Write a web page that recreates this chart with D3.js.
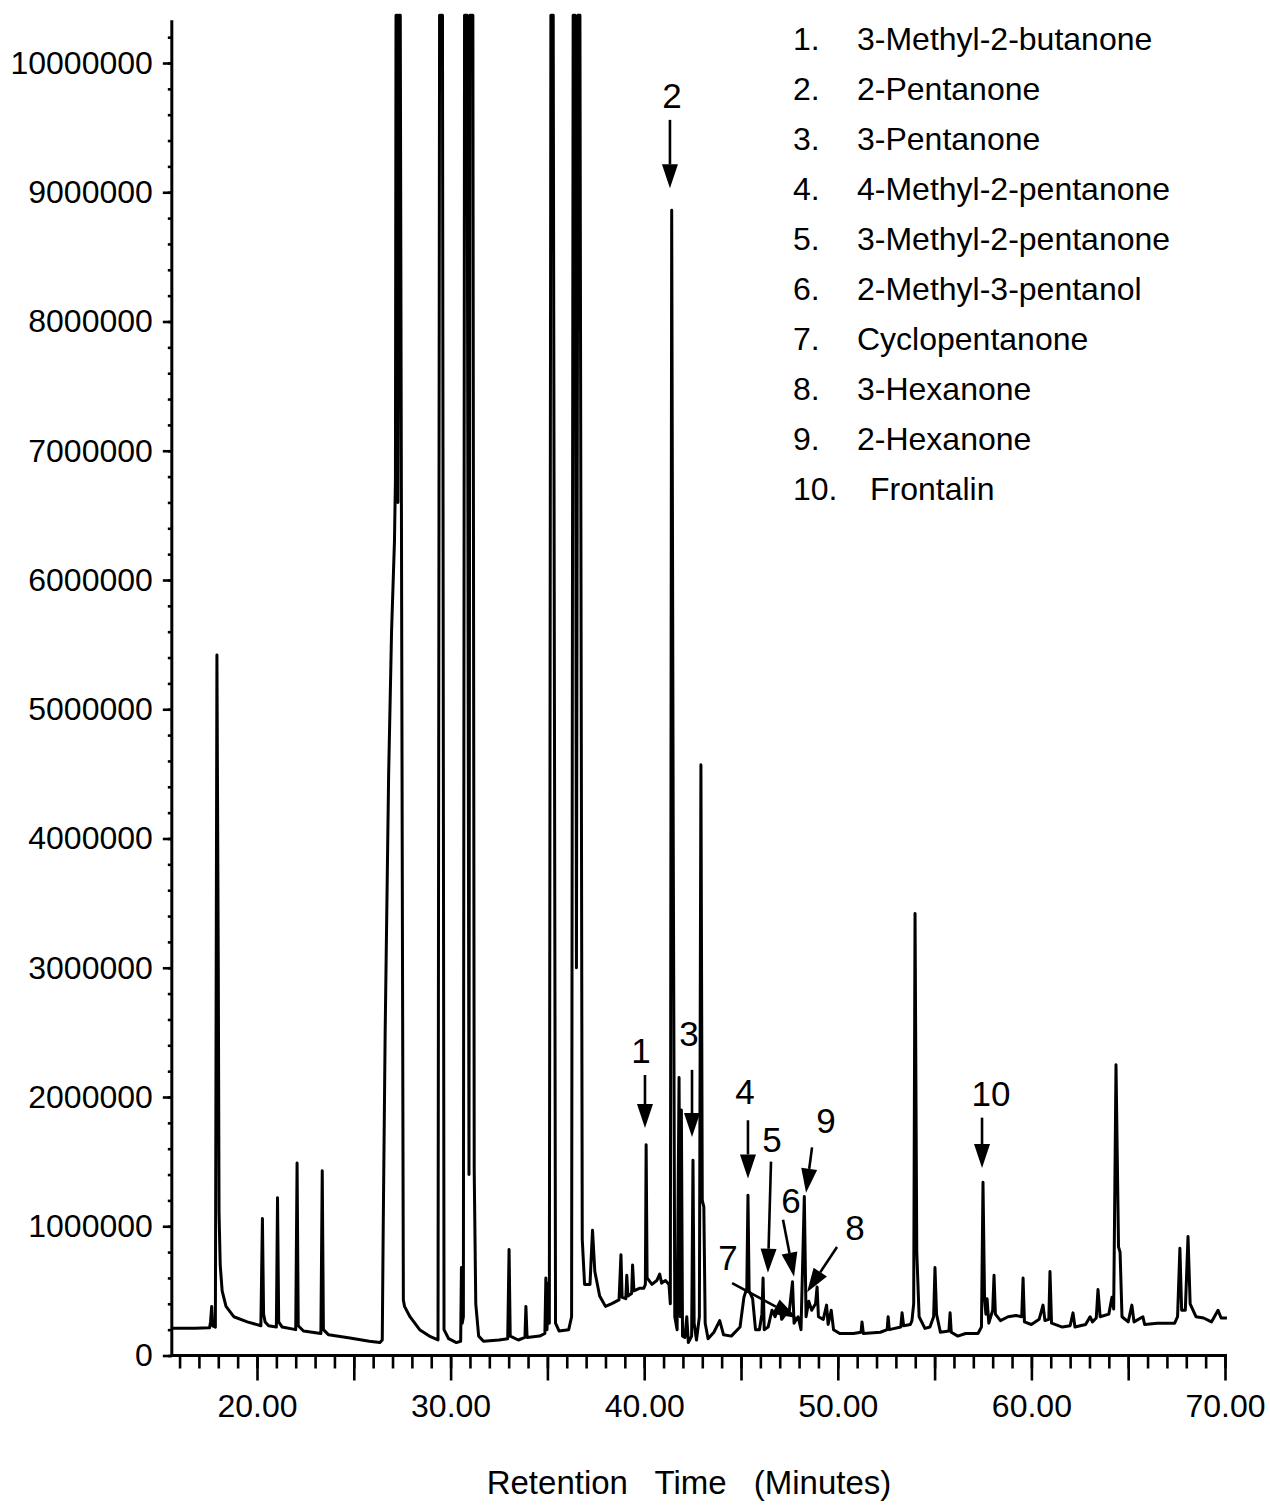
<!DOCTYPE html>
<html>
<head>
<meta charset="utf-8">
<script src="https://cdn.jsdelivr.net/npm/d3@7"></script>
<style>
  body { margin: 0; background: #fff; }
  svg { display: block; font-family: "Liberation Sans", Arial, sans-serif; }
</style>
</head>
<body>
<div id="container"></div>
<script>
// chromatogram: [retention time (min), abundance]
const traceEarly = [
  [15.6, 2.1e5], [16.8, 2.1e5], [17.55, 2.15e5], [17.6, 2.6e5], [17.66, 3.8e5], [17.71, 2.3e5],
  [17.85, 2.2e5], [17.93, 5.42e6], [18.0, 3.0e6], [18.04, 1.1e6], [18.1, 7.0e5], [18.2, 5.0e5],
  [18.4, 3.8e5], [18.8, 3.0e5], [19.5, 2.6e5], [20.2, 2.3e5], [20.28, 1.06e6], [20.34, 3.2e5],
  [20.42, 2.6e5], [20.6, 2.3e5], [21.0, 2.2e5], [21.06, 1.22e6], [21.12, 2.6e5], [21.3, 2.2e5],
  [22.0, 2.0e5], [22.07, 1.49e6], [22.13, 2.3e5], [22.4, 1.9e5], [23.3, 1.7e5], [23.37, 1.43e6],
  [23.43, 2.0e5], [23.7, 1.6e5], [24.8, 1.35e5], [25.8, 1.1e5], [26.35, 1.0e5]
];
const traceMiddle = [
  [26.47, 1.2e5], [26.52, 1.0e6], [26.62, 2.5e6], [26.8, 4.5e6], [26.95, 5.6e6], [27.1, 6.3e6],
  [27.15, 6.77e6], [27.18, 1.037e7], [27.24, 1.037e7], [27.28, 6.6e6], [27.34, 1.037e7],
  [27.4, 1.037e7], [27.5, 4.0e6], [27.56, 4.3e5], [27.62, 3.8e5], [27.9, 3.0e5], [28.4, 2.0e5],
  [28.9, 1.5e5], [29.35, 1.2e5], [29.43, 1.037e7], [29.58, 1.037e7], [29.66, 2.0e5], [29.9, 1.3e5],
  [30.3, 1.0e5], [30.52, 1.1e5], [30.56, 6.8e5], [30.6, 2.5e5], [30.66, 3.0e5], [30.72, 1.037e7],
  [30.85, 1.037e7], [30.95, 1.4e6], [31.0, 1.037e7], [31.15, 1.037e7], [31.22, 1.43e6],
  [31.3, 4.0e5], [31.45, 1.5e5], [31.7, 1.1e5], [32.5, 1.2e5], [32.95, 1.3e5], [33.02, 8.2e5],
  [33.08, 1.5e5], [33.5, 1.2e5], [33.84, 1.4e5], [33.89, 3.8e5], [33.95, 1.4e5], [34.6, 1.5e5],
  [34.87, 1.7e5], [34.92, 6.0e5], [34.98, 2.0e5], [35.05, 5.6e5], [35.1, 2.5e5], [35.18, 1.037e7],
  [35.3, 1.037e7], [35.42, 2.5e5], [35.6, 1.9e5], [36.1, 2.0e5], [36.25, 3.0e5], [36.33, 1.037e7],
  [36.43, 1.037e7], [36.5, 3.0e6], [36.58, 1.037e7], [36.68, 1.037e7], [36.8, 9.0e5],
  [36.92, 5.5e5], [37.2, 5.5e5], [37.33, 9.7e5], [37.45, 6.5e5], [37.7, 4.6e5], [38.0, 3.8e5],
  [38.3, 4.0e5], [38.7, 4.3e5], [38.8, 7.8e5], [38.86, 4.5e5], [39.05, 4.4e5], [39.1, 6.2e5],
  [39.16, 4.6e5], [39.35, 4.8e5], [39.4, 7.0e5], [39.47, 5.0e5], [39.75, 5.2e5], [39.98, 5.2e5],
  [40.06, 5.5e5], [40.1, 1.63e6], [40.15, 6.0e5], [40.4, 5.5e5], [40.65, 5.8e5], [40.8, 6.3e5],
  [40.9, 5.6e5], [41.1, 5.8e5], [41.28, 5.5e5]
];
const traceLate = [
  [41.35, 4.0e5], [41.42, 8.86e6], [41.5, 4.0e6], [41.58, 3.0e5], [41.7, 2.0e5], [41.8, 2.15e6],
  [41.86, 3.0e5], [41.92, 1.9e6], [41.98, 1.5e5], [42.1, 1.4e5], [42.2, 3.0e5], [42.28, 1.0e5],
  [42.45, 1.5e5], [42.52, 1.51e6], [42.58, 2.5e5], [42.7, 1.2e5], [42.85, 3.0e5], [42.93, 4.57e6],
  [43.0, 1.2e6], [43.08, 1.15e6], [43.15, 2.5e5], [43.3, 1.3e5], [43.6, 1.8e5], [43.9, 2.7e5],
  [44.1, 1.6e5], [44.5, 1.5e5], [44.95, 2.2e5], [45.15, 4.5e5], [45.3, 5.2e5], [45.36, 1.24e6],
  [45.42, 5.0e5], [45.6, 4.4e5], [45.75, 2.0e5], [45.95, 2.0e5], [46.08, 3.2e5], [46.14, 6.0e5],
  [46.2, 2.0e5], [46.4, 2.2e5], [46.6, 3.5e5], [46.76, 3.0e5], [47.0, 4.0e5], [47.1, 2.8e5],
  [47.3, 3.2e5], [47.5, 3.5e5], [47.66, 5.7e5], [47.74, 2.5e5], [47.95, 3.0e5], [48.1, 2.0e5],
  [48.27, 1.23e6], [48.36, 3.0e5], [48.5, 4.2e5], [48.65, 3.5e5], [48.85, 4.0e5], [48.93, 5.3e5],
  [49.0, 3.0e5], [49.25, 2.8e5], [49.42, 3.9e5], [49.5, 2.4e5], [49.66, 3.5e5], [49.78, 2.0e5],
  [50.1, 1.7e5], [50.8, 1.7e5], [51.2, 1.8e5], [51.25, 2.6e5], [51.32, 1.7e5], [52.2, 1.8e5],
  [52.55, 2.0e5], [52.6, 3.0e5], [52.66, 2.0e5], [53.25, 2.2e5], [53.32, 3.3e5], [53.4, 2.3e5],
  [53.75, 2.4e5], [53.83, 2.7e5], [53.92, 4.0e5], [53.99, 3.42e6], [54.08, 8.0e5], [54.2, 3.0e5],
  [54.5, 2.1e5], [54.76, 2.2e5], [54.95, 3.0e5], [55.02, 6.8e5], [55.1, 3.2e5], [55.3, 1.8e5],
  [55.74, 1.9e5], [55.8, 3.3e5], [55.86, 1.8e5], [56.2, 1.5e5], [56.6, 1.7e5], [57.24, 1.7e5],
  [57.42, 2.2e5], [57.5, 1.34e6], [57.58, 4.4e5], [57.65, 3.2e5], [57.71, 4.4e5], [57.8, 2.5e5],
  [58.0, 3.5e5], [58.07, 6.2e5], [58.14, 3.2e5], [58.4, 2.7e5], [58.8, 3.0e5], [59.2, 3.1e5],
  [59.5, 3.0e5], [59.57, 6.0e5], [59.64, 2.6e5], [60.0, 2.4e5], [60.4, 2.8e5], [60.6, 3.9e5],
  [60.7, 2.7e5], [60.9, 2.8e5], [60.96, 6.5e5], [61.04, 2.5e5], [61.6, 2.2e5], [62.0, 2.3e5],
  [62.15, 3.3e5], [62.25, 2.2e5], [62.8, 2.4e5], [63.03, 3.0e5], [63.15, 2.6e5], [63.35, 2.9e5],
  [63.44, 5.1e5], [63.55, 3.0e5], [64.0, 3.2e5], [64.16, 4.5e5], [64.25, 3.6e5], [64.37, 2.25e6],
  [64.5, 8.4e5], [64.58, 8.0e5], [64.68, 3.0e5], [65.0, 2.6e5], [65.19, 3.9e5], [65.3, 2.6e5],
  [65.76, 3.0e5], [65.85, 2.4e5], [66.5, 2.5e5], [67.4, 2.5e5], [67.55, 3.0e5], [67.67, 8.3e5],
  [67.76, 3.5e5], [67.95, 3.5e5], [68.09, 9.2e5], [68.2, 4.0e5], [68.5, 3.0e5], [68.9, 2.9e5],
  [69.3, 2.6e5], [69.64, 3.5e5], [69.8, 2.9e5], [70.1, 2.9e5]
];

// compound legend
const compoundNumbers = ['1.', '2.', '3.', '4.', '5.', '6.', '7.', '8.', '9.', '10.'];
const compoundNames = [
  '3-Methyl-2-butanone', '2-Pentanone', '3-Pentanone', '4-Methyl-2-pentanone',
  '3-Methyl-2-pentanone', '2-Methyl-3-pentanol', 'Cyclopentanone', '3-Hexanone',
  '2-Hexanone', 'Frontalin'
];

// peak marks: label, label anchor, arrow tail, arrow tip (time, abundance)
const markLabels = ['1', '2', '3', '4', '5', '6', '7', '8', '9', '10'];
const markText = [[39.83, 2.36e6], [41.44, 9.75e6], [42.31, 2.49e6], [45.21, 2.04e6], [46.6, 1.67e6],
  [47.58, 1.2e6], [44.33, 0.76e6], [50.89, 0.99e6], [49.39, 1.82e6], [57.91, 2.03e6]];
const markFrom = [[40.04, 2.17e6], [41.33, 9.56e6], [42.47, 2.21e6], [45.36, 1.82e6], [46.55, 1.5e6],
  [47.17, 1.05e6], [44.54, 0.56e6], [49.96, 0.84e6], [48.67, 1.61e6], [57.45, 1.84e6]];
const markTo = [[40.04, 1.76e6], [41.33, 9.03e6], [42.47, 1.69e6], [45.36, 1.37e6], [46.39, 0.64e6],
  [47.74, 0.61e6], [47.89, 0.29e6], [48.41, 0.49e6], [48.36, 1.26e6], [57.45, 1.45e6]];

// axes
const xMinor = d3.range(16, 71, 1);
const xMajor = d3.range(20, 71, 5);
const xLabelled = [20, 30, 40, 50, 60, 70];
const yMajor = d3.range(0, 10000001, 1000000);
const yMinor = d3.range(0, 10200001, 200000);
const xStart = 15.6;
const yTop = 10330000;

let width = 1270;
let height = 1508;
let svg = d3.create('svg').attr('width', width).attr('height', height);

let x = d3.scaleLinear().domain([20, 70]).range([257, 1225]);
let y = d3.scaleLinear().domain([0, 10000000]).range([1355.5, 63]);

const ink = '#000';
const fontSize = 32;

function styleAxis(g) {
  g.select('.domain').remove();
  g.selectAll('.tick line').attr('stroke', ink).attr('stroke-width', 2.6);
  g.selectAll('.tick text')
    .attr('fill', ink)
    .attr('font-size', fontSize)
    .attr('font-family', '"Liberation Sans", Arial, sans-serif');
}

// x axis
svg.append('g')
  .attr('transform', `translate(0,${y(0)})`)
  .call(d3.axisBottom(x).tickValues(xMinor).tickSize(13).tickFormat(''))
  .call(styleAxis);
svg.append('g')
  .attr('transform', `translate(0,${y(0)})`)
  .call(d3.axisBottom(x).tickValues(xMajor).tickSize(25).tickPadding(14)
    .tickFormat(d => xLabelled.includes(d) ? d.toFixed(2) : ''))
  .call(styleAxis);

// y axis
svg.append('g')
  .attr('transform', `translate(${x(xStart)},0)`)
  .call(d3.axisLeft(y).tickValues(yMinor).tickSize(4).tickFormat(''))
  .call(styleAxis);
svg.append('g')
  .attr('transform', `translate(${x(xStart)},0)`)
  .call(d3.axisLeft(y).tickValues(yMajor).tickSize(9).tickPadding(10).tickFormat(d3.format('d')))
  .call(styleAxis);

// axis lines
svg.append('line')
  .attr('x1', x(xStart)).attr('x2', x(70.1))
  .attr('y1', y(0)).attr('y2', y(0))
  .attr('stroke', ink).attr('stroke-width', 3);
svg.append('line')
  .attr('x1', x(xStart)).attr('x2', x(xStart))
  .attr('y1', y(0)).attr('y2', y(yTop))
  .attr('stroke', ink).attr('stroke-width', 3);

// trace
let line = d3.line().x(d => x(d[0])).y(d => y(d[1]));
let trace = traceEarly.concat(traceMiddle, traceLate);
svg.append('path')
  .datum(trace)
  .attr('d', line)
  .attr('fill', 'none')
  .attr('stroke', ink)
  .attr('stroke-width', 3)
  .attr('stroke-linejoin', 'round');

// axis title
svg.append('text')
  .attr('x', 689)
  .attr('y', 1494)
  .attr('text-anchor', 'middle')
  .attr('font-size', 33)
  .attr('word-spacing', 18)
  .attr('fill', ink)
  .text('Retention Time (Minutes)');

// legend
let legend = svg.append('g').attr('font-size', fontSize).attr('fill', ink);
compoundNames.forEach((name, i) => {
  let baseY = 49.5 + i * 50;
  legend.append('text').attr('x', 793).attr('y', baseY).text(compoundNumbers[i]);
  legend.append('text')
    .attr('x', 857 + (compoundNumbers[i].length - 2) * 13)
    .attr('y', baseY)
    .text(name);
});

// peak marks with arrows
let marks = svg.append('g');
markLabels.forEach((lab, i) => {
  let tx = x(markText[i][0]), ty = y(markText[i][1]);
  marks.append('text')
    .attr('x', tx).attr('y', ty)
    .attr('dy', '0.36em')
    .attr('text-anchor', 'middle')
    .attr('font-size', 35)
    .attr('fill', ink)
    .text(lab);

  let x1 = x(markFrom[i][0]), y1 = y(markFrom[i][1]);
  let x2 = x(markTo[i][0]), y2 = y(markTo[i][1]);
  let ang = Math.atan2(y2 - y1, x2 - x1);
  let headLen = 24, headHalf = 8;
  let bx = x2 - headLen * Math.cos(ang), by = y2 - headLen * Math.sin(ang);
  marks.append('line')
    .attr('x1', x1).attr('y1', y1).attr('x2', bx).attr('y2', by)
    .attr('stroke', ink).attr('stroke-width', 2.6);
  let px = -Math.sin(ang) * headHalf, py = Math.cos(ang) * headHalf;
  marks.append('path')
    .attr('d', `M${x2},${y2}L${bx + px},${by + py}L${bx - px},${by - py}Z`)
    .attr('fill', ink);
});

d3.select('#container').append(() => svg.node());
</script>
</body>
</html>
